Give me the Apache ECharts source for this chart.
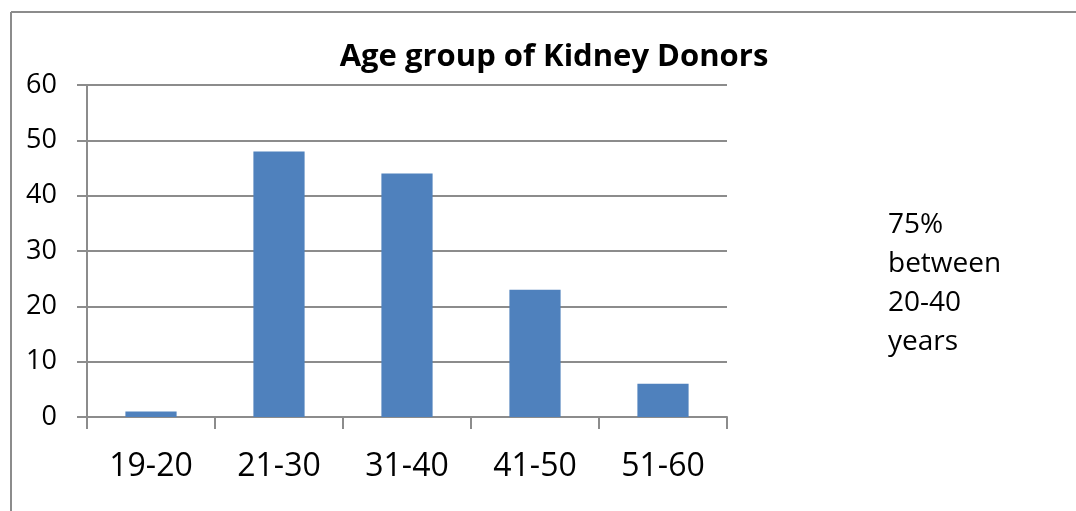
<!DOCTYPE html>
<html>
<head>
<meta charset="utf-8">
<script src="https://cdn.jsdelivr.net/npm/echarts@6/dist/echarts.min.js"></script>
<style>
  html, body { margin: 0; padding: 0; background: #fff; }
  #chart { width: 1076px; height: 511px; }
</style>
</head>
<body>
<div id="chart"></div>
<script>
var ageGroups = ['19-20', '21-30', '31-40', '41-50', '51-60']
var donors = [1, 48, 44, 23, 6]
var yTicks = [0, 10, 20, 30, 40, 50, 60]
var note = ['75%', 'between', '20-40', 'years']

var font = 'Open Sans'
var chart = echarts.init(document.getElementById('chart'))

var option = {
  animation: false,
  backgroundColor: '#fff',
  title: {
    text: 'Age group of Kidney Donors',
    left: 549,
    top: 37,
    textAlign: 'center',
    textStyle: { fontFamily: font, fontWeight: 'bold', fontSize: 31, color: '#000' }
  },
  grid: { left: 87, right: 349, top: 85, bottom: 94, containLabel: false },
  xAxis: {
    type: 'category',
    data: ageGroups,
    axisLine: { lineStyle: { color: '#8c8c8c', width: 2 } },
    axisTick: { show: true, length: 12, lineStyle: { color: '#8c8c8c', width: 2 } },
    axisLabel: { fontFamily: font, fontSize: 32, color: '#000', margin: 34 }
  },
  yAxis: {
    type: 'value',
    min: yTicks[0],
    max: yTicks[yTicks.length - 1],
    interval: 10,
    axisLine: { show: true, lineStyle: { color: '#8c8c8c', width: 2 } },
    axisTick: { show: true, length: 10, lineStyle: { color: '#8c8c8c', width: 2 } },
    axisLabel: { fontFamily: font, fontSize: 27, color: '#000', margin: 30 },
    splitLine: { lineStyle: { color: '#8c8c8c', width: 2 } }
  },
  series: [
    {
      type: 'bar',
      data: donors,
      barCategoryGap: '60%',
      itemStyle: { color: '#4f81bd' }
    }
  ],
  graphic: [
    { type: 'line', shape: { x1: 11, y1: 12, x2: 1076, y2: 12 }, style: { stroke: '#8c8c8c', lineWidth: 2 } },
    { type: 'line', shape: { x1: 11, y1: 12, x2: 11, y2: 511 }, style: { stroke: '#8c8c8c', lineWidth: 2 } },
    {
      type: 'text',
      left: 888,
      top: 206,
      style: { text: note.join('\n'), fontFamily: font, fontSize: 28, lineHeight: 39, fill: '#000' }
    }
  ]
}

chart.setOption(option)
</script>
</body>
</html>
